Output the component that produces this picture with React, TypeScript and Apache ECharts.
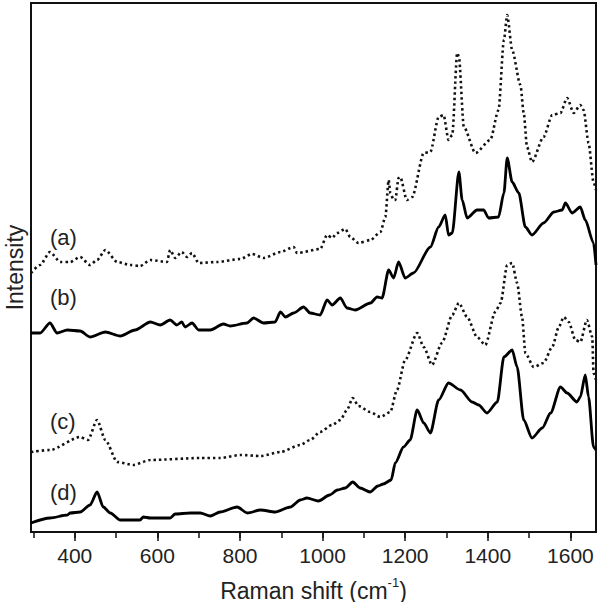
import React, { useEffect, useRef } from "react";
import * as echarts from "echarts";

const seriesLabels = ["(a)", "(b)", "(c)", "(d)"];
const tickValues = [300, 400, 500, 600, 700, 800, 900, 1000, 1100, 1200, 1300, 1400, 1500, 1600];
const labelValues = [400, 600, 800, 1000, 1200, 1400, 1600];

const shiftA = [294, 316, 340, 365, 389, 413, 437, 454, 474, 503, 534, 558, 583, 623, 631, 643, 659, 672, 684, 700, 744, 801, 829, 857, 898, 930, 938, 994, 1011, 1023, 1035, 1055, 1067, 1087, 1116, 1140, 1152, 1160, 1164, 1172, 1176, 1184, 1188, 1204, 1217, 1245, 1261, 1281, 1293, 1305, 1314, 1326, 1330, 1342, 1370, 1406, 1426, 1439, 1447, 1459, 1479, 1487, 1495, 1507, 1535, 1556, 1576, 1592, 1608, 1624, 1632, 1644, 1656, 1662];
const intensityA = [259, 267, 280, 270, 270, 275, 267, 272, 282, 270, 267, 266, 272, 270, 282, 274, 280, 275, 279, 269, 270, 273, 278, 274, 280, 285, 279, 283, 297, 294, 299, 303, 295, 289, 292, 300, 315, 352, 339, 332, 332, 354, 355, 332, 335, 379, 380, 415, 417, 392, 397, 479, 475, 405, 379, 392, 422, 492, 517, 482, 447, 419, 385, 370, 395, 417, 419, 434, 419, 427, 422, 389, 350, 342];

const shiftB = [294, 316, 340, 357, 382, 413, 437, 474, 510, 546, 583, 607, 631, 647, 659, 667, 684, 700, 728, 760, 776, 817, 833, 857, 885, 898, 910, 930, 954, 970, 994, 1011, 1023, 1043, 1059, 1079, 1116, 1132, 1144, 1160, 1172, 1184, 1200, 1220, 1261, 1281, 1297, 1305, 1314, 1330, 1338, 1350, 1374, 1390, 1402, 1426, 1439, 1447, 1459, 1475, 1491, 1507, 1535, 1560, 1580, 1588, 1604, 1624, 1636, 1656, 1662];
const intensityB = [199, 199, 209, 199, 202, 201, 195, 200, 196, 202, 210, 207, 212, 207, 210, 205, 209, 202, 202, 208, 206, 209, 214, 209, 210, 220, 215, 219, 225, 219, 217, 232, 227, 234, 224, 222, 229, 235, 234, 262, 254, 270, 254, 259, 285, 305, 317, 297, 299, 360, 332, 314, 322, 322, 314, 315, 339, 374, 350, 339, 305, 297, 309, 320, 322, 329, 319, 325, 312, 289, 267];

const shiftC = [294, 340, 413, 432, 454, 474, 503, 541, 583, 704, 752, 801, 850, 898, 946, 970, 994, 1023, 1043, 1059, 1073, 1087, 1115, 1140, 1164, 1180, 1200, 1229, 1245, 1265, 1289, 1314, 1330, 1350, 1374, 1394, 1418, 1431, 1447, 1459, 1471, 1483, 1491, 1511, 1535, 1556, 1572, 1584, 1596, 1612, 1624, 1640, 1653, 1656, 1662];
const intensityC = [80, 82, 95, 92, 112, 92, 70, 67, 72, 74, 74, 77, 76, 80, 87, 92, 100, 107, 112, 122, 134, 126, 120, 115, 120, 142, 172, 199, 185, 167, 189, 217, 229, 215, 195, 187, 220, 229, 267, 269, 249, 215, 179, 165, 169, 185, 205, 215, 210, 192, 190, 212, 195, 159, 152];

const shiftD = [294, 340, 382, 389, 413, 437, 454, 469, 486, 510, 558, 566, 583, 607, 631, 643, 680, 704, 728, 752, 793, 818, 850, 885, 922, 946, 962, 990, 1017, 1036, 1055, 1073, 1091, 1115, 1134, 1147, 1166, 1176, 1196, 1212, 1229, 1245, 1261, 1281, 1305, 1334, 1362, 1378, 1398, 1423, 1439, 1459, 1471, 1487, 1507, 1532, 1552, 1576, 1592, 1616, 1624, 1636, 1644, 1656, 1662];
const intensityD = [9, 14, 17, 19, 20, 27, 40, 25, 19, 12, 12, 15, 14, 14, 14, 18, 19, 19, 16, 20, 25, 19, 22, 20, 25, 32, 34, 31, 37, 42, 44, 50, 44, 40, 46, 48, 52, 69, 85, 92, 122, 109, 99, 132, 149, 142, 130, 127, 119, 130, 175, 182, 165, 112, 94, 104, 119, 145, 139, 130, 135, 157, 135, 85, 82];

const zip = (xs: number[], ys: number[]) => xs.map((x, i) => [x, ys[i]]);

export default function App() {
  const ref = useRef<HTMLDivElement>(null);
  useEffect(() => {
    if (!ref.current) return;
    const chart = echarts.init(ref.current, null, { renderer: "svg" });
    const font = "Liberation Sans, Arial, sans-serif";
    const solid = { color: "#000", width: 2.8 };
    const dotted = { color: "#111", width: 2.6, type: [2.4, 3] as number[], cap: "butt" as const };
    const labelYs = [237, 297, 421, 492];
    const common = { type: "line", showSymbol: false, smooth: 0.25, smoothMonotone: "x" };
    chart.setOption({
      animation: false,
      backgroundColor: "#fff",
      grid: {
        left: 31,
        right: 4,
        top: 3,
        bottom: 70,
        show: true,
        borderColor: "#111",
        borderWidth: 2,
        containLabel: false,
        outerBoundsMode: "none",
      },
      xAxis: [
        {
          type: "value",
          min: 294,
          max: 1662,
          axisLine: { show: true, lineStyle: { color: "#111", width: 2 } },
          axisTick: { show: true, customValues: tickValues, length: 6, lineStyle: { color: "#111", width: 1.5 } },
          axisLabel: {
            customValues: labelValues,
            formatter: (v: number) => String(v),
            fontSize: 21,
            color: "#222",
            fontFamily: font,
            margin: 13,
          },
          splitLine: { show: false },
          name: "{a|Raman shift (cm}{s|-1}{a|)}",
          nameLocation: "middle",
          nameGap: 44,
          nameTextStyle: {
            rich: {
              a: { fontSize: 23, color: "#222", fontFamily: font, lineHeight: 26, verticalAlign: "bottom" },
              s: { fontSize: 13, color: "#222", fontFamily: font, lineHeight: 26, verticalAlign: "top" },
            },
          },
        },
        {
          type: "value",
          min: 294,
          max: 1662,
          position: "bottom",
          axisLine: { show: false },
          axisTick: { show: true, customValues: labelValues, length: 9, lineStyle: { color: "#111", width: 1.5 } },
          axisLabel: { show: false },
          splitLine: { show: false },
        },
      ],
      yAxis: {
        type: "value",
        min: 0,
        max: 529,
        axisLine: { show: true, lineStyle: { color: "#111", width: 2 } },
        axisTick: { show: false },
        axisLabel: { show: false },
        splitLine: { show: false },
        name: "Intensity",
        nameLocation: "middle",
        nameGap: 5,
        nameTextStyle: { fontSize: 23, color: "#222", fontFamily: font },
      },
      series: [
        { ...common, name: seriesLabels[0], data: zip(shiftA, intensityA), lineStyle: dotted },
        { ...common, name: seriesLabels[1], data: zip(shiftB, intensityB), lineStyle: solid },
        { ...common, name: seriesLabels[2], data: zip(shiftC, intensityC), lineStyle: dotted },
        { ...common, name: seriesLabels[3], data: zip(shiftD, intensityD), lineStyle: solid },
      ],
      graphic: seriesLabels.map((t, i) => ({
        type: "text",
        x: 50,
        y: labelYs[i],
        style: { text: t, fill: "#222", font: `22px ${font}`, verticalAlign: "middle" },
      })),
    });
    return () => chart.dispose();
  }, []);
  return <div ref={ref} style={{ position: "fixed", left: 0, top: 0, width: 600, height: 602 }} />;
}
